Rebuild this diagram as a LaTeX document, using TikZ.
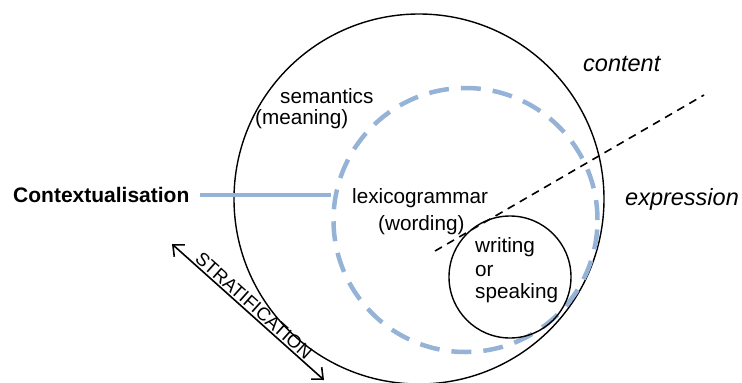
\documentclass[tikz,border=0pt]{standalone}
\usepackage{fontspec}
\setmainfont{Liberation Sans}
\usetikzlibrary{arrows.meta}
\definecolor{strblue}{RGB}{149,179,215}
\begin{document}
\begin{tikzpicture}[x=1pt,y=-1pt,
  lbl/.style={inner sep=0pt,font=\fontsize{20.7}{24}\selectfont},
  itlbl/.style={inner sep=0pt,font=\fontsize{23.5}{27}\selectfont\itshape},
  ring/.style={circle,draw=black,line width=1.4pt,inner sep=0pt},
  bluering/.style={circle,draw=strblue,line width=4.5pt,dash pattern=on 20pt off 12pt,inner sep=0pt}]
\useasboundingbox (0,0) rectangle (742,383);
\node[ring,minimum size=370pt] (outer) at (419,199) {};
\node[bluering,minimum size=264pt] (lexring) at (465.5,220) {};
\node[ring,minimum size=122pt] (expring) at (510,277) {};
% labels
\node[lbl,anchor=base west] (sem) at (280,103) {semantics};
\node[lbl,anchor=base west] (mean) at (255,124) {(meaning)};
\node[lbl,anchor=base west] (lex) at (352,203) {lexicogrammar};
\node[lbl,anchor=base west] (word) at (378,230) {(wording)};
\node[lbl,anchor=base west] (wri) at (475,252) {writing};
\node[lbl,anchor=base west] (or) at (475,276) {or};
\node[lbl,anchor=base west] (spk) at (475,298) {speaking};
\node[itlbl,anchor=base west] (cont) at (583,71) {content};
\node[itlbl,anchor=base west] (expr) at (625,205) {expression};
\node[inner sep=0pt,anchor=base west,font=\fontsize{21}{25}\selectfont\bfseries] (ctx) at (13,202) {Contextualisation};
% contextualisation line
\draw[strblue,line width=4pt] (ctx.east |- 0,195) ++(10,0) -- (lexring.west |- 0,195);
% content / expression divider
\coordinate (d1) at (435,251);
\coordinate (d2) at (704,95);
\draw[line width=1.6pt,dash pattern=on 8pt off 6pt] (d1) -- (d2);
% stratification arrow
\coordinate (s1) at (172,244);
\coordinate (s2) at (324,380);
\draw[line width=1.6pt,{Straight Barb[length=9pt,width=16pt]}-{Straight Barb[length=9pt,width=16pt]}] (s1) -- node[sloped,above=0.5pt,inner sep=1pt,font=\fontsize{18.5}{22}\selectfont] (strat) {STRATIFICATION} (s2);
\end{tikzpicture}
\end{document}
